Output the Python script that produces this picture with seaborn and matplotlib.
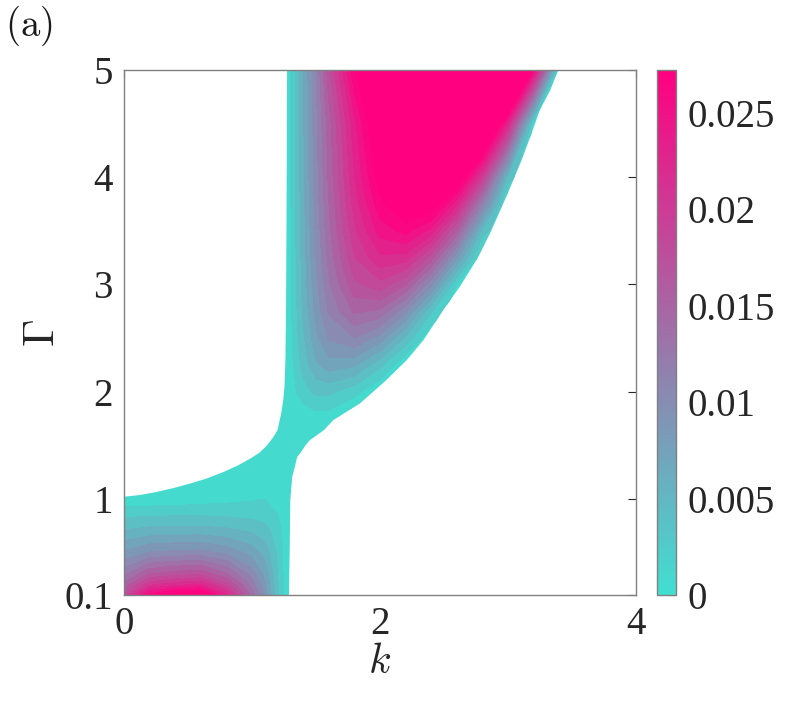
import numpy as np
import matplotlib
matplotlib.use('Agg')
import matplotlib.pyplot as plt
from matplotlib.patches import Polygon
import seaborn as sns

# growth rate, in units of 1e-3
k_values = [0, 0.2, 0.4, 0.6, 0.8, 1.0, 1.1, 1.2, 1.25, 1.3, 1.35, 1.4, 1.5, 1.6,
            1.8, 2.0, 2.2, 2.4, 2.6, 2.8, 3.0, 3.2, 3.4, 3.6, 4.0]
gamma_values = [0.1, 0.2, 0.3, 0.5, 0.7, 0.9, 1.0, 1.1, 1.2, 1.3, 1.4, 1.5, 1.6, 1.7,
                1.8, 2.0, 2.25, 2.5, 2.75, 3.0, 3.25, 3.5, 3.75, 4.0, 4.5, 5.0]

rate_rows = [
    [17.8, 26.4, 28.9, 30.1, 22.9, 14.0, 9.24, 3.56, 1.39, 0, 0, 0, 0, 0, 0, 0, 0, 0, 0, 0, 0, 0, 0, 0, 0],
    [14.8, 20.3, 21.8, 22.4, 18.2, 12.1, 8.37, 3.42, 1.37, 0, 0, 0, 0, 0, 0, 0, 0, 0, 0, 0, 0, 0, 0, 0, 0],
    [12.3, 15.9, 16.8, 17.2, 14.6, 10.4, 7.51, 3.27, 1.34, 0, 0, 0, 0, 0, 0, 0, 0, 0, 0, 0, 0, 0, 0, 0, 0],
    [8.19, 9.64, 9.96, 10.1, 9.12, 7.29, 5.75, 2.88, 1.27, 0, 0, 0, 0, 0, 0, 0, 0, 0, 0, 0, 0, 0, 0, 0, 0],
    [4.91, 5.40, 5.50, 5.54, 5.23, 4.58, 3.91, 2.33, 1.15, 0, 0, 0, 0, 0, 0, 0, 0, 0, 0, 0, 0, 0, 0, 0, 0],
    [2.10, 2.19, 2.2, 2.21, 2.16, 2.04, 1.90, 1.43, 0.88, 0.1, 0, 0, 0, 0, 0, 0, 0, 0, 0, 0, 0, 0, 0, 0, 0],
    [0.05, 0.3, 0.6, 0.9, 1.2, 1.48, 1.6, 1.37, 0.77, 0.12, 0, 0, 0, 0, 0, 0, 0, 0, 0, 0, 0, 0, 0, 0, 0],
    [0, 0, 0.05, 0.21, 0.65, 1.07, 1.24, 1.2, 0.75, 0.15, 0, 0, 0, 0, 0, 0, 0, 0, 0, 0, 0, 0, 0, 0, 0],
    [0, 0, 0, 0.05, 0.11, 0.66, 0.88, 1.0, 0.7, 0.2, 0, 0, 0, 0, 0, 0, 0, 0, 0, 0, 0, 0, 0, 0, 0],
    [0, 0, 0, 0, 0.05, 0.25, 0.51, 0.7, 0.65, 0.3, 0.05, 0, 0, 0, 0, 0, 0, 0, 0, 0, 0, 0, 0, 0, 0],
    [0, 0, 0, 0, 0, 0.1, 0.15, 0.45, 0.55, 0.4, 0.15, 0, 0, 0, 0, 0, 0, 0, 0, 0, 0, 0, 0, 0, 0],
    [0, 0, 0, 0, 0, 0, 0.1, 0.2, 0.45, 0.45, 0.35, 0.15, 0, 0, 0, 0, 0, 0, 0, 0, 0, 0, 0, 0, 0],
    [0, 0, 0, 0, 0, 0, 0, 0.1, 0.35, 0.45, 0.45, 0.4, 0.2, 0, 0, 0, 0, 0, 0, 0, 0, 0, 0, 0, 0],
    [0, 0, 0, 0, 0, 0, 0, 0.1, 0.25, 0.4, 0.5, 0.6, 0.7, 0.35, 0, 0, 0, 0, 0, 0, 0, 0, 0, 0, 0],
    [0, 0, 0, 0, 0, 0, 0, 0, 0.25, 0.45, 0.65, 0.85, 1.4, 1.3, 0, 0, 0, 0, 0, 0, 0, 0, 0, 0, 0],
    [0, 0, 0, 0, 0, 0, 0, 0, 0, 0.64, 1.66, 2.54, 3.6, 3.6, 2.2, 0, 0, 0, 0, 0, 0, 0, 0, 0, 0],
    [0, 0, 0, 0, 0, 0, 0, 0, 0, 0.92, 2.4, 3.8, 6.1, 7.3, 6.7, 3.7, 0, 0, 0, 0, 0, 0, 0, 0, 0],
    [0, 0, 0, 0, 0, 0, 0, 0, 0, 1.08, 2.8, 4.5, 7.5, 9.8, 11.2, 9.0, 4.5, 0, 0, 0, 0, 0, 0, 0, 0],
    [0, 0, 0, 0, 0, 0, 0, 0, 0, 1.17, 3.1, 5.0, 8.5, 11.4, 14.7, 14.1, 10.0, 3.4, 0, 0, 0, 0, 0, 0, 0],
    [0, 0, 0, 0, 0, 0, 0, 0, 0, 1.24, 3.3, 5.3, 9.1, 12.5, 17.2, 18.7, 16.2, 10.0, 1.6, 0, 0, 0, 0, 0, 0],
    [0, 0, 0, 0, 0, 0, 0, 0, 0, 1.29, 3.4, 5.5, 9.6, 13.3, 19.1, 22.1, 21.7, 16.9, 8.4, 0, 0, 0, 0, 0, 0],
    [0, 0, 0, 0, 0, 0, 0, 0, 0, 1.33, 3.5, 5.7, 9.9, 13.9, 20.4, 24.7, 26.2, 23.4, 15.5, 4.3, 0, 0, 0, 0, 0],
    [0, 0, 0, 0, 0, 0, 0, 0, 0, 1.36, 3.6, 5.8, 10.2, 14.3, 21.5, 26.7, 29.5, 29.3, 22.9, 11.3, 0, 0, 0, 0, 0],
    [0, 0, 0, 0, 0, 0, 0, 0, 0, 1.38, 3.7, 6.0, 10.4, 14.7, 22.3, 28.3, 32.2, 33.7, 30.4, 19.7, 4.2, 0, 0, 0, 0],
    [0, 0, 0, 0, 0, 0, 0, 0, 0, 1.42, 3.8, 6.1, 10.7, 15.2, 23.5, 30.6, 36.1, 39.6, 41.2, 37.2, 22.5, 1.1, 0, 0, 0],
    [0, 0, 0, 0, 0, 0, 0, 0, 0, 1.45, 3.8, 6.2, 11.0, 17.0, 27.0, 34.0, 38.7, 43.8, 47.1, 48.6, 44.6, 26.0, 0, 0, 0],
]

# outline of the unstable region (k, Gamma)
edge_k = [-0.05, -0.05, 0.13, 0.26, 0.39, 0.52, 0.65, 0.78, 0.89, 0.99, 1.06, 1.12,
          1.165, 1.20, 1.229, 1.245, 1.255, 1.262, 1.267, 1.27, 1.273, 1.275,
          3.41, 3.33, 3.25, 3.185, 3.107, 3.02, 2.94, 2.86, 2.755, 2.625, 2.495,
          2.34, 2.209, 2.05, 1.844, 1.635, 1.5625, 1.453, 1.42, 1.375, 1.354,
          1.336, 1.315, 1.30, 1.295, 1.289]
edge_gamma = [0.05, 1.012, 1.035, 1.064, 1.10, 1.142, 1.19, 1.25, 1.31, 1.376, 1.43, 1.50,
              1.57, 1.64, 1.796, 1.92, 2.05, 2.3, 2.8, 3.5, 4.3, 5.05,
              5.05, 4.81, 4.63, 4.41, 4.16, 3.91, 3.69, 3.476, 3.23, 2.98, 2.76,
              2.48, 2.293, 2.107, 1.889, 1.733, 1.64, 1.547, 1.50, 1.42, 1.39,
              1.30, 1.204, 0.987, 0.5, 0.05]

cbar_ticks = [0, 0.005, 0.01, 0.015, 0.02, 0.025]
cbar_labels = ['0', '0.005', '0.01', '0.015', '0.02', '0.025']
x_ticks = [0, 2, 4]
y_ticks = [0.1, 1, 2, 3, 4, 5]
y_labels = ['0.1', '1', '2', '3', '4', '5']

sns.set_theme(style='white')
plt.rcParams['font.family'] = ['Liberation Serif', 'DejaVu Serif']
plt.rcParams['mathtext.fontset'] = 'cm'

rate = np.array(rate_rows) * 1e-3
cmap = sns.blend_palette(['#40E0D0', '#FF0080'], as_cmap=True)
norm = matplotlib.colors.Normalize(vmin=0, vmax=0.0272)

fig = plt.figure(figsize=(7.89, 7.01), dpi=100)
ax = fig.add_axes([0.157, 0.151, 0.649, 0.749])
cax = fig.add_axes([0.833, 0.151, 0.024, 0.749])

levels = np.arange(0, 0.05, 0.0016)
cs = ax.contourf(k_values, gamma_values, rate, levels=levels, cmap=cmap, norm=norm)
region = Polygon(np.column_stack([edge_k, edge_gamma]), closed=True,
                 transform=ax.transData, facecolor='none', edgecolor='none')
cs.set_clip_path(region)

ax.set_xlim(0, 4)
ax.set_ylim(0.1, 5)
ax.set_xticks(x_ticks)
ax.set_xticklabels([str(t) for t in x_ticks])
ax.set_yticks(y_ticks)
ax.set_yticklabels(y_labels)
ax.tick_params(direction='in', length=6, width=0.8, color='0.15', labelsize=28,
               labelcolor='0.15', top=True, right=True, pad=8)
for s in ax.spines.values():
    s.set_color('0.5')
    s.set_linewidth(1.0)

ax.set_xlabel(r'$k$', fontsize=30, labelpad=0, color='0.15')
ax.set_ylabel(r'$\Gamma$', fontsize=32, labelpad=1, color='0.15')
fig.text(0.006, 0.995, r'$\mathrm{(a)}$', fontsize=28, va='top', ha='left', color='0.1')

sm = matplotlib.cm.ScalarMappable(norm=norm, cmap=cmap)
cb = fig.colorbar(sm, cax=cax)
cb.set_ticks(cbar_ticks)
cb.set_ticklabels(cbar_labels)
cax.tick_params(direction='in', length=5, width=0.8, color='0.15', labelsize=28,
                labelcolor='0.15', pad=8)
cb.outline.set_edgecolor('0.5')
cb.outline.set_linewidth(1.0)

fig.savefig('out.png', dpi=100)
